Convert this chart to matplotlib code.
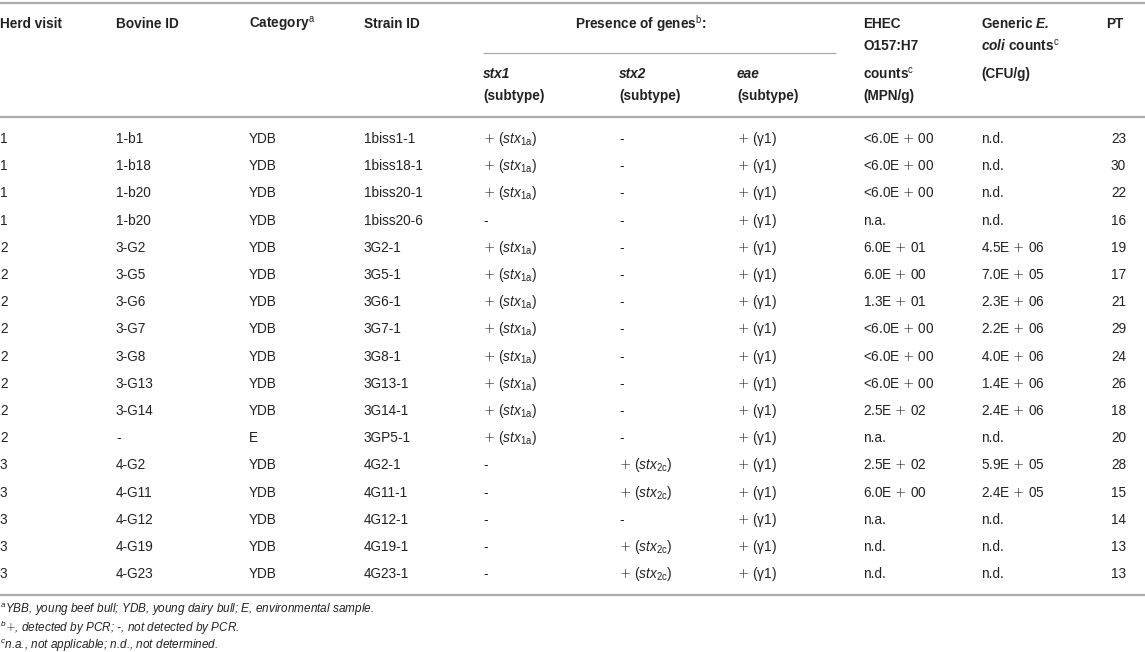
import matplotlib
matplotlib.use("Agg")
from matplotlib import pyplot as plt

# 表のデータ
herd_visit = ["1", "1", "1", "1", "2", "2", "2", "2", "2", "2", "2", "2", "3", "3", "3", "3", "3"]
bovine_id = ["1-b1", "1-b18", "1-b20", "1-b20", "3-G2", "3-G5", "3-G6", "3-G7", "3-G8",
             "3-G13", "3-G14", "-", "4-G2", "4-G11", "4-G12", "4-G19", "4-G23"]
category = ["YDB"] * 11 + ["E"] + ["YDB"] * 5
strain_id = ["1biss1-1", "1biss18-1", "1biss20-1", "1biss20-6", "3G2-1", "3G5-1", "3G6-1",
             "3G7-1", "3G8-1", "3G13-1", "3G14-1", "3GP5-1", "4G2-1", "4G11-1", "4G12-1",
             "4G19-1", "4G23-1"]
stx1_sub = ["1a", "1a", "1a", "-", "1a", "1a", "1a", "1a", "1a", "1a", "1a", "1a",
            "-", "-", "-", "-", "-"]
stx2_sub = ["-"] * 12 + ["2c", "2c", "-", "2c", "2c"]
eae_sub = ["γ1"] * 17
ehec_counts = ["<6.0E + 00", "<6.0E + 00", "<6.0E + 00", "n.a.", "6.0E + 01", "6.0E + 00",
               "1.3E + 01", "<6.0E + 00", "<6.0E + 00", "<6.0E + 00", "2.5E + 02", "n.a.",
               "2.5E + 02", "6.0E + 00", "n.a.", "n.d.", "n.d."]
generic_counts = ["n.d.", "n.d.", "n.d.", "n.d.", "4.5E + 06", "7.0E + 05", "2.3E + 06",
                  "2.2E + 06", "4.0E + 06", "1.4E + 06", "2.4E + 06", "n.d.", "5.9E + 05",
                  "2.4E + 05", "n.d.", "n.d.", "n.d."]
pt = ["23", "30", "22", "16", "19", "17", "21", "29", "24", "26", "18", "20", "28", "15",
      "14", "13", "13"]

footnotes = [
    r"$^{\mathit{a}}$YBB, young beef bull; YDB, young dairy bull; E, environmental sample.",
    r"$^{\mathit{b}}$$\mathsf{+}$, detected by PCR; -, not detected by PCR.",
    r"$^{\mathit{c}}$n.a., not applicable; n.d., not determined.",
]

plt.rcParams['font.family'] = ['Liberation Sans', 'DejaVu Sans']
plt.rcParams['mathtext.fontset'] = 'custom'
plt.rcParams['mathtext.rm'] = 'Liberation Sans'
plt.rcParams['mathtext.it'] = 'Liberation Sans:italic'
plt.rcParams['mathtext.bf'] = 'Liberation Sans:bold'
plt.rcParams['mathtext.bfit'] = 'Liberation Sans:italic:bold'
plt.rcParams['mathtext.sf'] = 'DejaVu Sans:light'

W, H = 1145, 652
fig = plt.figure(figsize=(W / 100, H / 100), dpi=100)
ax = fig.add_axes([0, 0, 1, 1])
ax.set_xlim(0, W)
ax.set_ylim(H, 0)
ax.axis('off')

txt = '#222222'
rule = '#ababab'
fs = 9.8

# 列の位置
cols = [0, 116, 249, 364, 483, 619, 737, 863, 981, 1106]


def put(x, y, s, **kw):
    ax.text(x, y, s, fontsize=fs, color=txt, va='center', ha='left', **kw)


def sym(s):
    # 数式っぽい + にする
    return s.replace("+", r"$\mathsf{+}$")


# ヘッダー
ax.plot([0, W], [3, 3], color=rule, lw=1.6, solid_capstyle='butt')
put(cols[0], 24, "Herd visit", fontweight='bold')
put(cols[1], 24, "Bovine ID", fontweight='bold')
put(cols[2], 24, r"Category$^{\mathrm{a}}$", fontweight='bold')
put(cols[3], 24, "Strain ID", fontweight='bold')
put(575, 24, r"Presence of genes$^{\mathrm{b}}$:", fontweight='bold')
ax.plot([483, 836], [53, 53], color=rule, lw=0.9, solid_capstyle='butt')
for x, g in zip(cols[4:7], ["stx1", "stx2", "eae"]):
    put(x, 74, g, fontweight='bold', style='italic')
    put(x, 96, "(subtype)", fontweight='bold')
ehec_head = ["EHEC", "O157:H7", r"counts$^{\mathrm{c}}$", "(MPN/g)"]
generic_head = [r"Generic $\mathbfit{E.}$", r"$\mathbfit{coli}$ counts$^{\mathrm{c}}$", "(CFU/g)"]
for y, s in zip([24, 46, 74, 96], ehec_head):
    put(cols[7], y, s, fontweight='bold')
for y, s in zip([24, 46, 74], generic_head):
    put(cols[8], y, s, fontweight='bold')
put(cols[9], 24, "PT", fontweight='bold')
ax.plot([0, W], [117, 117], color=rule, lw=1.6, solid_capstyle='butt')


def gene(sub):
    if sub == "-":
        return "-"
    return r"$\mathsf{+}$ ($\mathit{stx}_{\mathrm{" + sub + r"}}$)"


# 行
y0, dy = 139, 27.2
for i in range(len(strain_id)):
    y = y0 + i * dy
    put(cols[0], y, herd_visit[i])
    put(cols[1], y, bovine_id[i])
    put(cols[2], y, category[i])
    put(cols[3], y, strain_id[i])
    put(cols[4], y, gene(stx1_sub[i]))
    put(cols[5], y, gene(stx2_sub[i]))
    put(cols[6], y, r"$\mathsf{+}$ (" + eae_sub[i] + ")")
    put(cols[7], y, sym(ehec_counts[i]))
    put(cols[8], y, sym(generic_counts[i]))
    ax.text(1126, y, pt[i], fontsize=fs, color=txt, va='center', ha='right')

ax.plot([0, W], [595, 595], color=rule, lw=1.6, solid_capstyle='butt')

# 脚注
for k, s in enumerate(footnotes):
    ax.text(0, 610 + 17.8 * k, s, fontsize=8.5, color=txt, va='center', ha='left',
            style='italic')

fig.savefig('out.png', dpi=100)
